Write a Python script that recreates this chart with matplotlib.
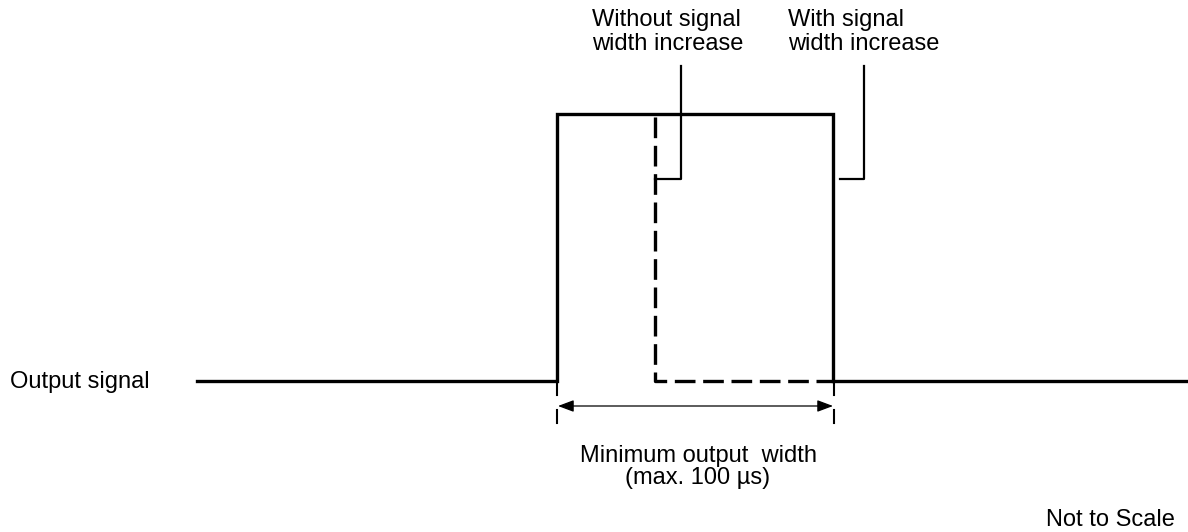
import matplotlib.pyplot as plt

plt.rcParams['font.family'] = ['Liberation Sans', 'DejaVu Sans']

# waveform levels (pixel-like diagram units, y grows downward)
y_low = 381
y_high = 114

# solid output signal (with signal width increase)
solid_x = [197, 557, 557, 833, 833, 1187]
solid_y = [y_low, y_low, y_high, y_high, y_low, y_low]

# dashed output signal (without signal width increase)
dash_x = [655, 655, 833]
dash_y = [117, y_low, y_low]

# leader lines for the two callouts
lead1_x = [655, 681, 681]
lead1_y = [179, 179, 66]
lead2_x = [840, 864, 864]
lead2_y = [179, 179, 66]

# dimension arrow and its broken extension lines
dim_left = 557
dim_right = 834
dim_y = 406
ext_segments = [(383, 395), (410, 423)]

fig = plt.figure(figsize=(11.88, 5.32), dpi=100)
ax = fig.add_axes([0, 0, 1, 1])
ax.set_xlim(0, 1188)
ax.set_ylim(532, 0)
ax.axis('off')

ax.plot(solid_x, solid_y, color='black', lw=2.4, solid_joinstyle='miter')
ax.plot(dash_x, dash_y, color='black', lw=2.4, dashes=(6.2, 2.3))
ax.plot(lead1_x, lead1_y, color='black', lw=1.6)
ax.plot(lead2_x, lead2_y, color='black', lw=1.6)

for xe in (dim_left, dim_right):
    for y0, y1 in ext_segments:
        ax.plot([xe, xe], [y0, y1], color='black', lw=1.5)
ax.annotate('', xy=(dim_left + 1, dim_y), xytext=(dim_right - 1, dim_y),
            arrowprops=dict(arrowstyle='<|-|>,head_length=0.8,head_width=0.3',
                            color='black', lw=0.9,
                            mutation_scale=12, shrinkA=0, shrinkB=0))

fs = 17
ax.text(10, 382, 'Output signal', fontsize=fs, va='center', ha='left')
ax.text(592, 32, 'Without signal\nwidth increase', fontsize=fs,
        va='center', ha='left', linespacing=1.07)
ax.text(788, 32, 'With signal\nwidth increase', fontsize=fs,
        va='center', ha='left', linespacing=1.07)
ax.text(698, 467, 'Minimum output  width\n(max. 100 µs)', fontsize=fs,
        va='center', ha='center', linespacing=1.05, multialignment='center')
ax.text(1175, 520, 'Not to Scale', fontsize=fs, va='center', ha='right')

fig.savefig('out.png', dpi=100)
